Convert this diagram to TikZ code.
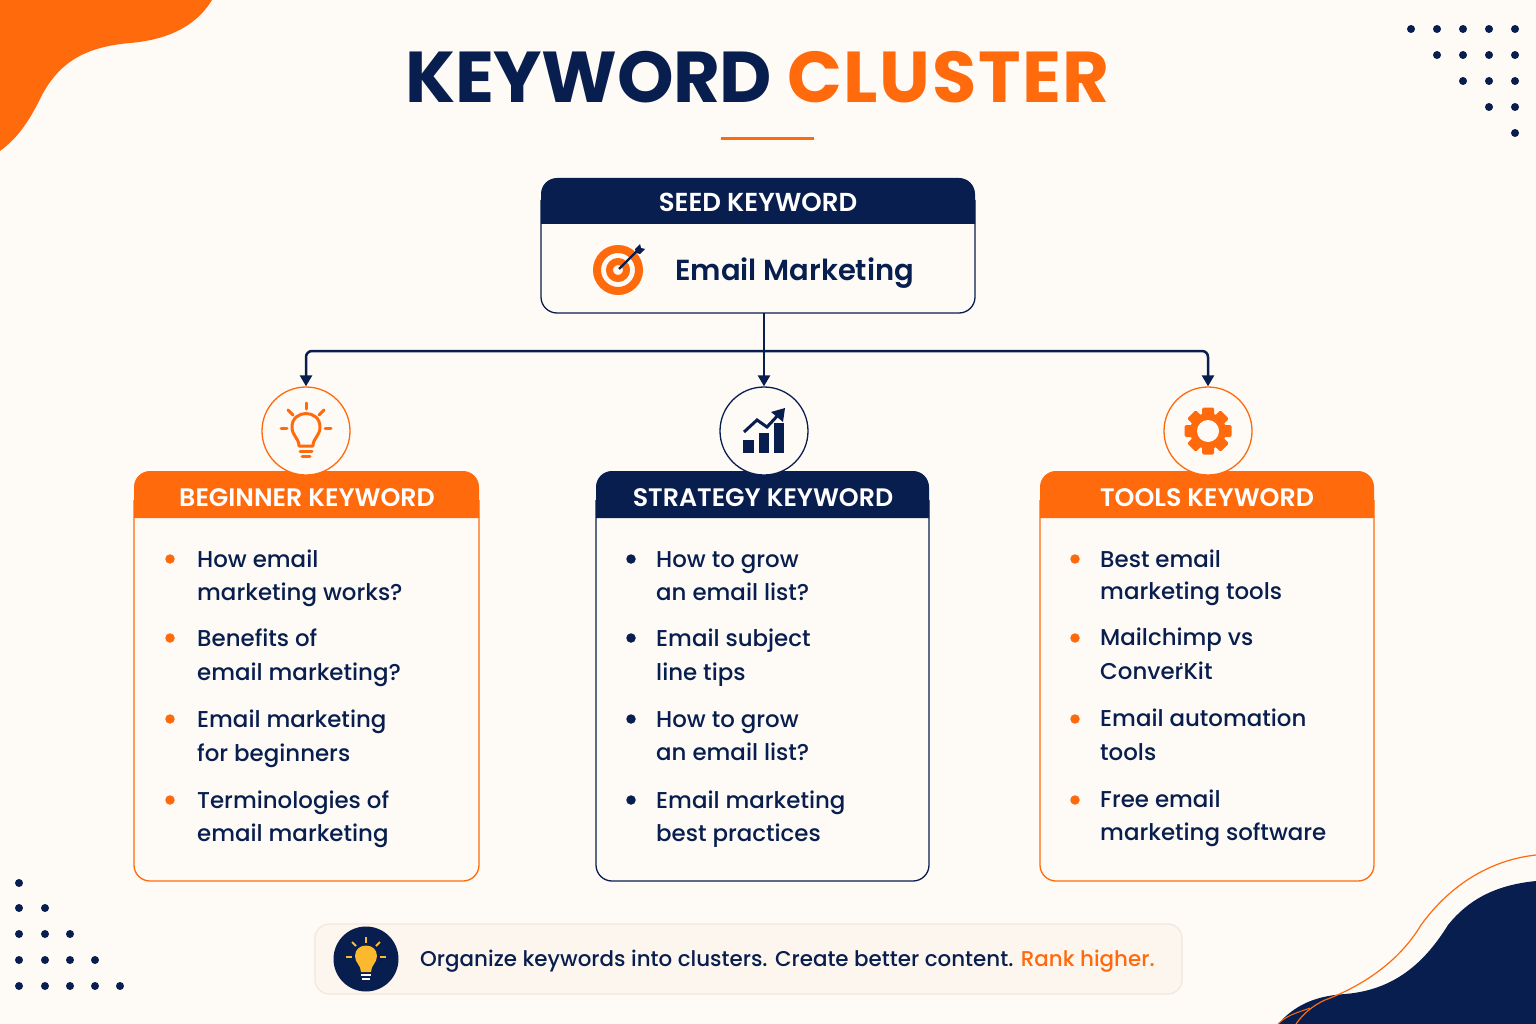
\documentclass[tikz,border=0pt]{standalone}
\usepackage{fontspec}
\setmainfont{Poppins}[BoldFont={Poppins SemiBold}]
\newfontfamily\medf{Poppins Medium}
\newfontfamily\titf{Poppins}[BoldFont={Poppins Bold}]
\usetikzlibrary{arrows.meta}
\definecolor{bgc}{HTML}{FEFAF6}
\definecolor{navy}{HTML}{081E4E}
\definecolor{org}{HTML}{FF6A0D}
\definecolor{yel}{HTML}{FDB92E}
\definecolor{barfill}{HTML}{FCF6EF}
\definecolor{barline}{HTML}{F0E8DE}
\tikzset{
 x=1pt,y=-1pt,
 cardtitle/.style={text=white,font=\fontsize{25.3}{28}\selectfont\bfseries,inner sep=0pt},
 itemtext/.style={text=navy,font=\fontsize{22.9}{28}\selectfont\medf,anchor=base west,inner sep=0pt},
 titletext/.style={anchor=base west,inner sep=0pt,font=\fontsize{72}{80}\selectfont\titf\bfseries},
 iconcircle/.style={circle,minimum size=88pt,inner sep=0pt,fill=bgc,line width=1.3pt},
 bullet/.style={circle,minimum size=9.5pt,inner sep=0pt,fill=#1},
 conn/.style={draw=navy,line width=2.5pt,-{Triangle[length=11pt,width=12pt]}},
 dotm/.style={fill=navy},
}
\newcommand{\kwcard}[6]{% name x1 x2 colour title titlex
 \fill[bgc,rounded corners=16pt] (#2,471) rectangle (#3,881);
 \draw[#4,line width=1.3pt,rounded corners=16pt] (#2,500) -- (#2,881) -- (#3,881) -- (#3,500);
 \fill[#4] (#2,518) [rounded corners=16pt] -- (#2,471) -- (#3,471) [sharp corners] -- (#3,518) -- cycle;
 \node[cardtitle] (#1) at (#6,497.5) {#5};
}
\newcommand{\kwitem}[6]{% name x baseline1 baseline2 line1 line2
 \node[itemtext] (#1a) at (#2,#3) {#5};
 \node[itemtext] (#1b) at (#2,#4) {#6};
}
\begin{document}
\begin{tikzpicture}
\useasboundingbox (0,0) rectangle (1536,1024);
\fill[bgc] (0,0) rectangle (1536,1024);
% blobs
\fill[org] (0,0) -- (212,0) .. controls (195,28) and (165,40) .. (130,43) .. controls (85,47) and (60,62) .. (42,95) .. controls (30,120) and (18,138) .. (0,151) -- cycle;
\fill[navy] (1536,881) .. controls (1495,885) and (1468,900) .. (1448,925) .. controls (1425,962) and (1395,990) .. (1345,994) .. controls (1315,996) and (1295,1005) .. (1278,1024) -- (1536,1024) -- cycle;
\draw[org,line width=1.2pt] (1536,855) .. controls (1490,860) and (1450,885) .. (1421,925) .. controls (1400,960) and (1365,985) .. (1325,1000) .. controls (1312,1006) and (1303,1014) .. (1296,1024);
\draw[org,line width=1pt] (1278,1024) .. controls (1288,1014) and (1300,1012) .. (1310,1008);
% dots
\foreach \x/\y in {1411/29,1437/29,1463/29,1489/29,1515/29,1437/55,1463/55,1489/55,1515/55,1463/81,1489/81,1515/81,1489/107,1515/107,1515/133,
 19/883,19/908,45/908,19/934,45/934,70/934,19/960,45/960,70/960,95/960,19/986,45/986,70/986,95/986,120/986}
 \fill[dotm] (\x,\y) circle (4pt);
% title
\node[titletext,text=navy] (titleA) at (405,103) {\addfontfeature{LetterSpace=-0.5}KEYWORD};
\node[titletext,text=org] (titleB) at (787,103) {\addfontfeature{LetterSpace=2.3}CLUSTER};
\draw[org,line width=3pt] (721,139) -- (814,139);
% seed
\fill[bgc,rounded corners=16pt] (541,178) rectangle (975,313);
\draw[navy,line width=1.3pt,rounded corners=16pt] (541,200) -- (541,313) -- (975,313) -- (975,200);
\fill[navy] (541,224) [rounded corners=16pt] -- (541,178) -- (975,178) [sharp corners] -- (975,224) -- cycle;
\node[cardtitle,font=\fontsize{26}{28}\selectfont\bfseries] (seedtitle) at (758,202.5) {SEED KEYWORD};
\node[inner sep=0pt,anchor=base west,text=navy,font=\fontsize{29}{36}\selectfont\bfseries] (seedname) at (675,280) {Email Marketing};
\coordinate (seedbottom) at (764,313);
% target icon
\draw[org,line width=8pt] (618,270) circle (21pt);
\draw[org,line width=7pt] (618,270) circle (8.5pt);
\draw[navy,line width=2.4pt] (619,269) -- (638,250);
\fill[navy] (635,249) -- (640,244) -- (641,248) -- (645,249) -- (640,254) -- (636,253) -- cycle;
% connectors
\coordinate (bus) at (764,351);
\kwcard{c1}{134}{479}{org}{BEGINNER KEYWORD}{307}
\kwcard{c2}{596}{929}{navy}{STRATEGY KEYWORD}{763}
\kwcard{c3}{1040}{1374}{org}{TOOLS KEYWORD}{1207}
\node[iconcircle,draw=org] (i1) at (306,431) {};
\node[iconcircle,draw=navy] (i2) at (764,431) {};
\node[iconcircle,draw=org] (i3) at (1208,431) {};
\draw[conn] (seedbottom) -- (i2.north);
\draw[conn,rounded corners=6pt] (bus) -- (bus -| i1) -- (i1.north);
\draw[conn,rounded corners=6pt] (bus) -- (bus -| i3) -- (i3.north);
% bulb icon
\begin{scope}[org,line width=3pt,line cap=round]
 \draw (306,403) -- (306,409);
 \draw (288,410) -- (293,415);
 \draw (324,410) -- (319,415);
 \draw (281,428) -- (287,428);
 \draw (325,428) -- (331,428);
 \draw[line join=round] (299,446) .. controls (299,438) and (292,436) .. (292,427) .. controls (292,409) and (320,409) .. (320,427) .. controls (320,436) and (313,438) .. (313,446) -- cycle;
 \draw (300,451) -- (312,451);
 \draw (302,456) -- (310,456);
\end{scope}
% chart icon
\fill[navy] (743,440) rectangle (754,453);
\fill[navy] (759,433) rectangle (769,453);
\fill[navy] (774,423) rectangle (784,453);
\draw[navy,line width=3pt] (744,432) -- (757,420) -- (767,427) -- (780,413);
\fill[navy] (771,412) -- (785,408) -- (783,422) -- cycle;
% gear icon
\foreach \a in {0,45,...,315}
 \fill[org,rounded corners=1.5pt,rotate around={\a:(1208,431)}] (1202,407.5) rectangle (1214,420);
\fill[org] (1208,431) circle (18pt);
\fill[bgc] (1208,431) circle (11pt);
% items
\foreach \x/\y/\c/\n in {170/559/org/a1,170/638/org/a2,170/719/org/a3,170/800/org/a4,
 631/559/navy/b1,631/638/navy/b2,631/719/navy/b3,631/800/navy/b4,
 1075/559/org/d1,1075/638/org/d2,1075/719/org/d3,1075/800/org/d4}
 \node[bullet=\c] (\n) at (\x,\y) {};
\kwitem{t1}{197}{567}{600}{How email}{marketing works?}
\kwitem{t2}{197}{646}{680}{Benefits of}{email marketing?}
\kwitem{t3}{197}{727}{761}{Email marketing}{for beginners}
\kwitem{t4}{197}{808}{841}{Terminologies of}{email marketing}
\kwitem{u1}{656}{567}{600}{How to grow}{an email list?}
\kwitem{u2}{656}{646}{680}{Email subject}{line tips}
\kwitem{u3}{656}{727}{760}{How to grow}{an email list?}
\kwitem{u4}{656}{808}{841}{Email marketing}{best practices}
\kwitem{v1}{1100}{567}{599}{Best email}{marketing tools}
\kwitem{v2}{1100}{645}{679}{Mailchimp vs}{ConverKit}
\kwitem{v3}{1100}{726}{760}{Email automation}{tools}
\kwitem{v4}{1100}{807}{840}{Free email}{marketing software}
\fill[navy] (1181,664) circle (1.2pt);
% bottom bar
\draw[barline,fill=barfill,line width=1.2pt,rounded corners=14pt] (315,924) rectangle (1182,994);
\node[circle,fill=navy,minimum size=65pt,inner sep=0pt] (tipc) at (366,959) {};
\begin{scope}[yel,line width=1.8pt]
 \draw (366,937) -- (366,943);
 \draw (352,942) -- (356,946);
 \draw (380,942) -- (376,946);
 \draw (346,957) -- (352,957);
 \draw (380,957) -- (386,957);
 \fill (361,972) .. controls (361,965) and (355,963) .. (355,956) .. controls (355,942) and (377,942) .. (377,956) .. controls (377,963) and (371,965) .. (371,972) -- cycle;
\end{scope}
\draw[white,line width=1.6pt] (361,975) -- (371,975);
\draw[white,line width=1.6pt] (362,979) -- (370,979);
\node[inner sep=0pt,anchor=base west,text=navy,font=\fontsize{21.4}{28}\selectfont\medf] (tip) at (420,966.5) {Organize keywords into clusters. Create better content. \textcolor{org}{Rank higher.}};
\end{tikzpicture}
\end{document}
